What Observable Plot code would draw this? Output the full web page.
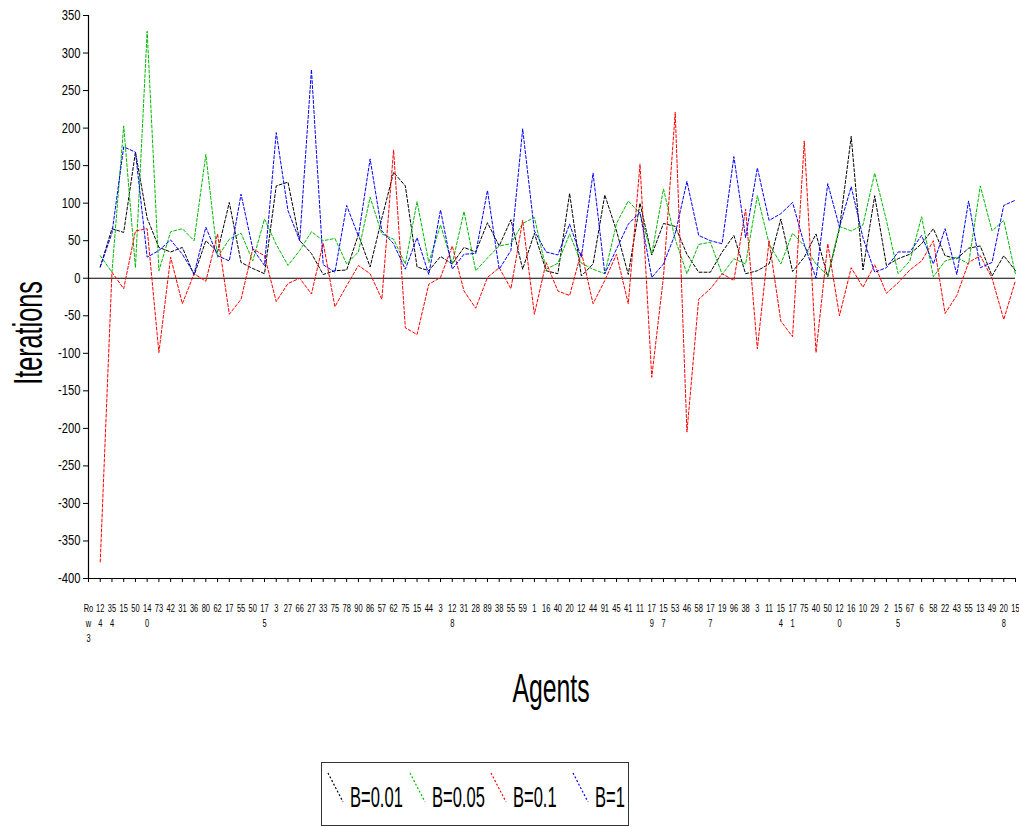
<!DOCTYPE html>
<html><head><meta charset="utf-8">
<script src="https://cdn.jsdelivr.net/npm/d3@7"></script>
<script src="https://cdn.jsdelivr.net/npm/@observablehq/plot@0.6"></script>
<style>
body{margin:0;background:#fff;}
#wrap{position:relative;width:1019px;height:827px;overflow:hidden;background:#fff;
  font-family:"Liberation Sans",Arial,sans-serif;}
#wrap > svg{position:absolute;left:0;top:0;}
.title{position:absolute;font-size:40px;line-height:40px;white-space:nowrap;color:#000;}
#legend{position:absolute;left:321px;top:762px;width:306px;height:62px;border:1.5px solid #333;background:#fff;}
#legend .item{position:absolute;top:0;height:62px;}
#legend .item svg{position:absolute;left:0;top:9px;}
#legend .item span{position:absolute;left:23px;top:20px;font-size:29px;line-height:29px;white-space:nowrap;transform:scaleX(0.57);transform-origin:left center;color:#000;}
</style></head><body><div id="wrap"></div>
<script>
// categories (x tick labels)
const agents = ["Row3","124","354","15","50","140","73","42","31","36","80","62","17","55","50","175","3","27","66","27","33","75","78","90","86","57","62","75","15","44","3","128","31","28","89","38","55","59","1","16","40","20","12","44","91","45","41","11","179","157","53","46","58","177","19","96","38","3","11","154","171","75","40","50","120","16","10","29","2","155","67","6","58","22","43","55","13","49","208","15"];
const seriesNames = ["B=0.01","B=0.05","B=0.1","B=1"];
const seriesColors = ["#000000","#00bb00","#ff0000","#0000ff"];
// values for agents[1..79]
const b001 = [15,66,61,168,80,41,35,41,4,50,35,101,21,13,6,123,128,50,33,5,10,11,58,15,80,141,123,15,10,29,19,41,35,74,43,78,12,60,10,6,113,3,19,111,63,5,100,31,73,69,32,8,8,35,57,6,10,19,79,9,28,59,2,66,189,11,110,17,26,32,46,66,30,26,40,43,3,30,10];
const b005 = [30,8,203,14,329,10,62,66,50,165,28,52,60,23,79,45,17,37,62,50,53,19,35,108,59,52,19,102,21,71,19,89,10,27,43,46,73,81,12,20,59,20,12,6,73,103,86,32,119,52,6,45,48,5,26,19,110,46,19,60,43,19,3,69,63,71,140,77,6,23,82,2,23,28,19,123,63,77,5];
const b01 = [-378,8,-14,63,66,-99,28,-34,6,-4,59,-48,-28,39,30,-31,-7,0,-21,47,-38,-10,17,6,-28,171,-66,-75,-8,1,43,-17,-40,1,14,-14,77,-48,21,-17,-23,35,-34,-3,32,-34,152,-132,2,221,-205,-28,-14,6,-3,92,-94,50,-57,-78,183,-99,46,-50,14,-12,18,-20,-6,11,23,50,-47,-23,21,30,0,-55,-3];
const b1 = [15,60,175,168,28,37,51,32,6,68,30,23,112,39,17,194,90,50,278,18,8,97,56,159,63,46,12,54,5,91,12,32,33,117,12,37,199,63,35,31,72,28,140,6,39,72,88,1,19,59,129,57,50,46,162,54,147,77,86,101,45,0,126,68,122,54,8,14,35,35,57,19,66,5,103,14,21,97,104];
const yTicks = d3.range(-400, 351, 50);

const FONT = '"Liberation Sans",Arial,sans-serif';

function wrapLabel(s) {
  const lines = []; let cur = "", w = 0;
  for (const ch of s.replace(/\s/g, "")) {
    const cw = /[wmWM]/.test(ch) ? 2 : 1;
    if (w + cw > 2 && cur) { lines.push(cur); cur = ""; w = 0; }
    cur += ch; w += cw;
  }
  if (cur) lines.push(cur);
  return lines.join("\n");
}

const rows = [];
[b001, b005, b01, b1].forEach((vals, s) =>
  vals.forEach((v, j) => rows.push({agent: j + 1, value: v, series: seriesNames[s]})));

const plot = Plot.plot({
  width: 1019, height: 827,
  marginTop: 15, marginRight: 4, marginBottom: 249, marginLeft: 88,
  style: {fontFamily: FONT, background: "transparent", color: "#000"},
  x: {type: "linear", domain: [0, agents.length - 1]},
  y: {domain: [-400, 350]},
  color: {domain: seriesNames, range: seriesColors},
  marks: [
    Plot.ruleY([0], {stroke: "#000", strokeWidth: 1.2}),
    Plot.lineY(rows, {x: "agent", y: "value", z: "series", stroke: "series", strokeWidth: 1, strokeDasharray: "3,2"}),
    Plot.axisY({ticks: yTicks, tickSize: 5, tickPadding: 3, fontSize: 14, label: null, tickFormat: d => String(d)}),
    Plot.axisX({ticks: d3.range(agents.length), tickFormat: i => wrapLabel(agents[i]), tickSize: 4, tickPadding: 19, fontSize: 10, lineHeight: 1.5, label: null}),
    Plot.ruleX([0], {stroke: "#000", strokeWidth: 1.2}),
    Plot.ruleY([-400], {stroke: "#000", strokeWidth: 1.2})
  ]
});

// condense tick label glyphs horizontally (narrow face look), keeping each anchor fixed
function squeeze(sel, k) {
  plot.querySelectorAll(sel).forEach(t => {
    const tr = t.getAttribute("transform") || "";
    let x = parseFloat(t.getAttribute("x"));
    if (!isFinite(x)) x = 0;
    t.setAttribute("transform", `${tr} translate(${x},0) scale(${k},1) translate(${-x},0)`.trim());
  });
}
squeeze('g[aria-label="x-axis tick label"] text', 0.75);
squeeze('g[aria-label="y-axis tick label"] text', 0.8);

const wrap = document.getElementById("wrap");
wrap.appendChild(plot);

// axis titles
const yt = document.createElement("div");
yt.className = "title"; yt.textContent = "Iterations";
yt.style.left = "28px"; yt.style.top = "333px";
yt.style.transform = "translate(-50%,-50%) rotate(-90deg) scaleX(0.63)";
wrap.appendChild(yt);

const xt = document.createElement("div");
xt.className = "title"; xt.textContent = "Agents";
xt.style.left = "551px"; xt.style.top = "688px";
xt.style.transform = "translate(-50%,-50%) scaleX(0.62)";
wrap.appendChild(xt);

// legend
const lg = document.createElement("div");
lg.id = "legend";
seriesNames.forEach((name, k) => {
  const it = document.createElement("div");
  it.className = "item";
  it.style.left = (5 + k * 81.7) + "px";
  it.innerHTML = `<svg width="18" height="32"><line x1="1" y1="1" x2="16" y2="30" stroke="${seriesColors[k]}" stroke-width="1.2" stroke-dasharray="2,2"/></svg><span>${name}</span>`;
  lg.appendChild(it);
});
wrap.appendChild(lg);
</script>
</body></html>
